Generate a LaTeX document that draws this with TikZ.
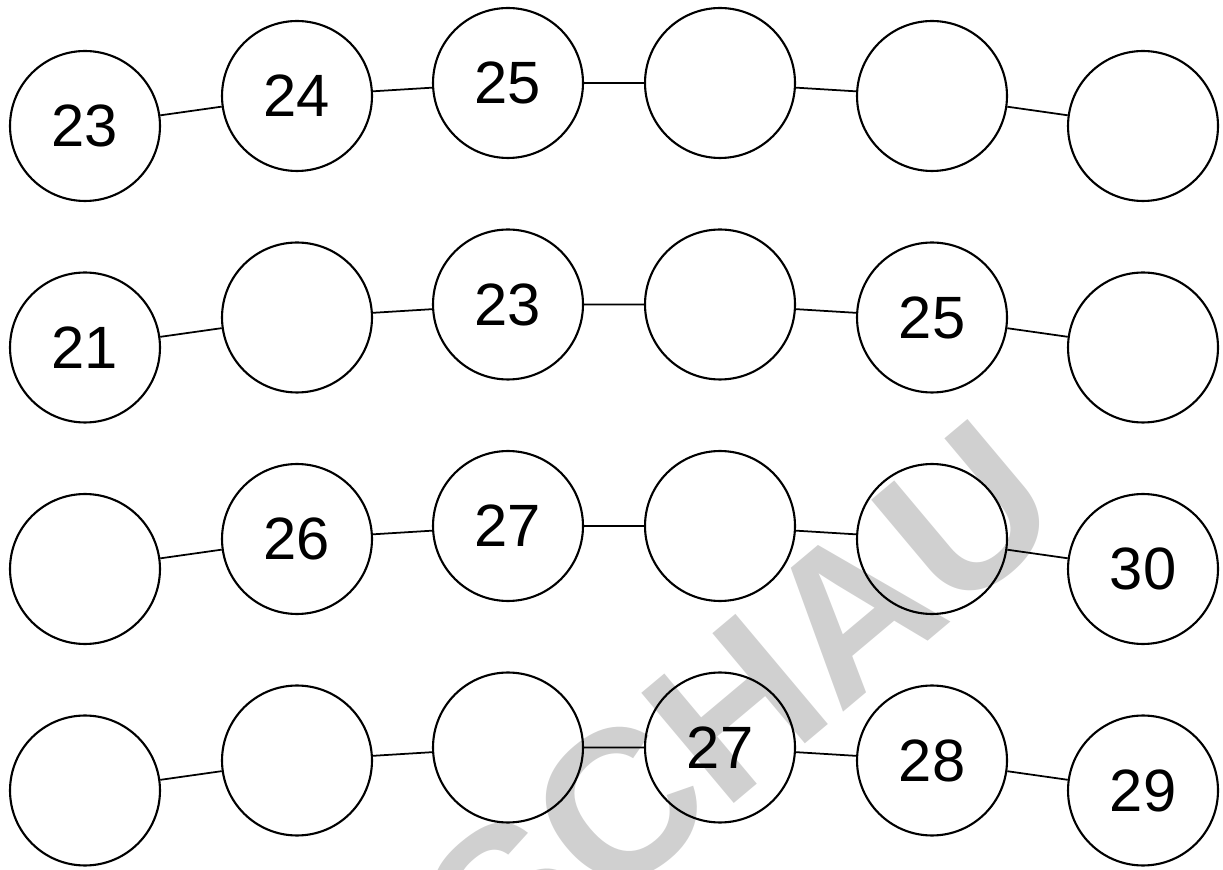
\documentclass[tikz,border=0pt]{standalone}
\usepackage{fontspec}
\setmainfont{Liberation Sans}
\usetikzlibrary{positioning}
\definecolor{stamp}{HTML}{D0D0D0}

\begin{document}
\begin{tikzpicture}[x=0.02cm,y=0.02cm,
    ring/.style={circle,draw,line width=1.2pt,minimum size=3cm,inner sep=0pt,
      font=\fontsize{34}{34}\selectfont},
    link/.style={line width=1pt}]
  \def\ya{743}
  \def\yb{521.5}
  \def\yc{300}
  \def\yd{78.5}

  \useasboundingbox (0,0) rectangle (1223,869);
  \clip (0,0) rectangle (1223,869);

  % watermark behind the rows
  \node[text=stamp,rotate=40,font=\bfseries\fontsize{119}{119}\selectfont] (wm) at (566,18) {VORSCHAU};

  \node[ring] (a1) at (85,\ya) {23};
  \node[ring] (a2) at (297,\ya+30) {24};
  \node[ring] (a3) at (508,\ya+43) {25};
  \node[ring] (a4) at (720,\ya+43) {};
  \node[ring] (a5) at (932,\ya+30) {};
  \node[ring] (a6) at (1143,\ya) {};
  \draw[link] (a1) -- (a2) (a2) -- (a3) (a3) -- (a4) (a4) -- (a5) (a5) -- (a6);

  \node[ring] (b1) at (85,\yb) {21};
  \node[ring] (b2) at (297,\yb+30) {};
  \node[ring] (b3) at (508,\yb+43) {23};
  \node[ring] (b4) at (720,\yb+43) {};
  \node[ring] (b5) at (932,\yb+30) {25};
  \node[ring] (b6) at (1143,\yb) {};
  \draw[link] (b1) -- (b2) (b2) -- (b3) (b3) -- (b4) (b4) -- (b5) (b5) -- (b6);

  \node[ring] (c1) at (85,\yc) {};
  \node[ring] (c2) at (297,\yc+30) {26};
  \node[ring] (c3) at (508,\yc+43) {27};
  \node[ring] (c4) at (720,\yc+43) {};
  \node[ring] (c5) at (932,\yc+30) {};
  \node[ring] (c6) at (1143,\yc) {30};
  \draw[link] (c1) -- (c2) (c2) -- (c3) (c3) -- (c4) (c4) -- (c5) (c5) -- (c6);

  \node[ring] (d1) at (85,\yd) {};
  \node[ring] (d2) at (297,\yd+30) {};
  \node[ring] (d3) at (508,\yd+43) {};
  \node[ring] (d4) at (720,\yd+43) {27};
  \node[ring] (d5) at (932,\yd+30) {28};
  \node[ring] (d6) at (1143,\yd) {29};
  \draw[link] (d1) -- (d2) (d2) -- (d3) (d3) -- (d4) (d4) -- (d5) (d5) -- (d6);
\end{tikzpicture}
\end{document}
